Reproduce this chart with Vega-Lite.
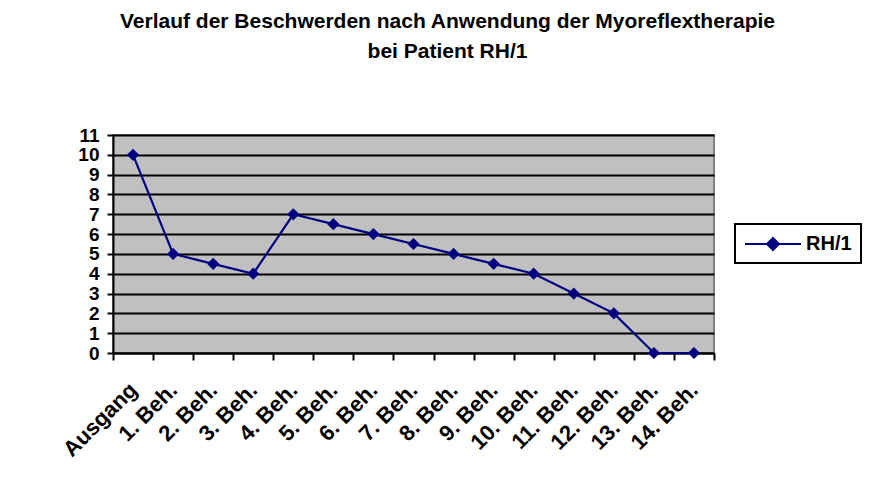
{
  "$schema": "https://vega.github.io/schema/vega-lite/v6.json",
  "autosize": "none",
  "width": 601,
  "height": 218,
  "padding": {"left": 113, "top": 135, "right": 160, "bottom": 125},
  "background": "white",
  "title": {
    "text": ["Verlauf der Beschwerden nach Anwendung der Myoreflextherapie", "bei Patient RH/1"],
    "font": "Liberation Sans",
    "fontSize": 21,
    "fontWeight": "bold",
    "color": "black",
    "lineHeight": 30,
    "anchor": "middle",
    "frame": "group",
    "dx": 34,
    "offset": 64
  },
  "data": {
    "values": [
      {"step": "Ausgang", "value": 10, "series": "RH/1"},
      {"step": "1. Beh.", "value": 5, "series": "RH/1"},
      {"step": "2. Beh.", "value": 4.5, "series": "RH/1"},
      {"step": "3. Beh.", "value": 4, "series": "RH/1"},
      {"step": "4. Beh.", "value": 7, "series": "RH/1"},
      {"step": "5. Beh.", "value": 6.5, "series": "RH/1"},
      {"step": "6. Beh.", "value": 6, "series": "RH/1"},
      {"step": "7. Beh.", "value": 5.5, "series": "RH/1"},
      {"step": "8. Beh.", "value": 5, "series": "RH/1"},
      {"step": "9. Beh.", "value": 4.5, "series": "RH/1"},
      {"step": "10. Beh.", "value": 4, "series": "RH/1"},
      {"step": "11. Beh.", "value": 3, "series": "RH/1"},
      {"step": "12. Beh.", "value": 2, "series": "RH/1"},
      {"step": "13. Beh.", "value": 0, "series": "RH/1"},
      {"step": "14. Beh.", "value": 0, "series": "RH/1"}
    ]
  },
  "mark": {
    "type": "line",
    "strokeWidth": 2.2,
    "point": {"shape": "diamond", "filled": true, "size": 150, "color": "#000080"}
  },
  "encoding": {
    "x": {
      "field": "step",
      "type": "ordinal",
      "sort": null,
      "scale": {"type": "band", "paddingInner": 0, "paddingOuter": 0},
      "axis": {
        "title": null,
        "labelAngle": -45,
        "labelAlign": "right",
        "labelBaseline": "middle",
        "labelFont": "Liberation Sans",
        "labelFontWeight": "bold",
        "labelFontSize": 22,
        "labelColor": "black",
        "labelPadding": 26,
        "labelOverlap": false,
        "tickBand": "extent",
        "ticks": true,
        "tickSize": 7,
        "tickColor": "black",
        "tickWidth": 2,
        "domainColor": "black",
        "domainWidth": 2,
        "grid": false
      }
    },
    "y": {
      "field": "value",
      "type": "quantitative",
      "scale": {"domain": [0, 11], "nice": false},
      "axis": {
        "title": null,
        "values": [0, 1, 2, 3, 4, 5, 6, 7, 8, 9, 10, 11],
        "labelFont": "Liberation Sans",
        "labelFontWeight": "bold",
        "labelFontSize": 19,
        "labelColor": "black",
        "labelPadding": 8,
        "labelOverlap": false,
        "labelFlush": false,
        "tickSize": 6,
        "tickColor": "black",
        "tickWidth": 2,
        "domainColor": "black",
        "domainWidth": 2,
        "grid": true,
        "gridColor": "black",
        "gridWidth": 2,
        "gridOpacity": 1
      }
    },
    "color": {
      "field": "series",
      "type": "nominal",
      "scale": {"range": ["#000080"]},
      "legend": {
        "title": null,
        "orient": "none",
        "legendX": 622,
        "legendY": 89,
        "padding": 9,
        "strokeColor": "black",
        "fillColor": "white",
        "symbolType": "M-2.8,0L2.8,0M-0.6,0L0,-0.6L0.6,0L0,0.6Z",
        "symbolSize": 400,
        "symbolStrokeWidth": 2,
        "symbolStrokeColor": "#000080",
        "symbolFillColor": "#000080",
        "symbolOffset": 18,
        "labelOffset": 22,
        "labelFont": "Liberation Sans",
        "labelFontWeight": "bold",
        "labelFontSize": 20,
        "labelColor": "black",
        "encode": {"legend": {"update": {"strokeWidth": {"value": 2}}}}
      }
    }
  },
  "config": {
    "view": {"fill": "#C0C0C0", "stroke": "#808080", "strokeWidth": 2}
  }
}
